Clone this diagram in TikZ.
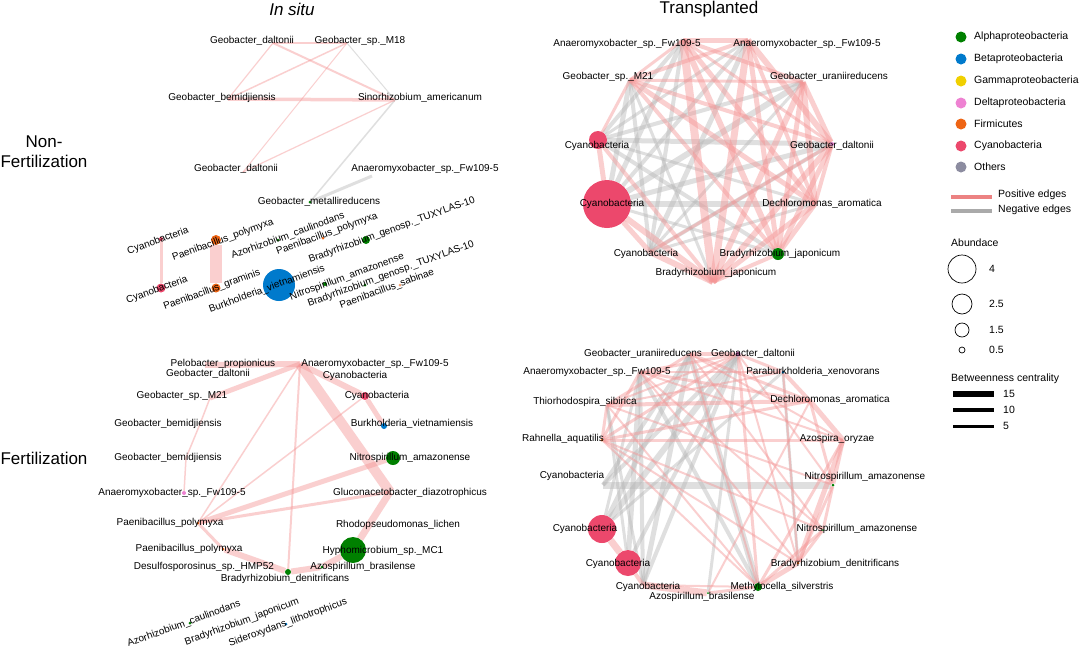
\documentclass[tikz,border=0pt]{standalone}
\usepackage{fontspec}
\setmainfont{Liberation Sans}
\usetikzlibrary{positioning}
\definecolor{alphac}{RGB}{0,128,0}
\definecolor{betac}{RGB}{0,122,204}
\definecolor{gammac}{RGB}{240,208,0}
\definecolor{deltac}{RGB}{238,130,210}
\definecolor{firmc}{RGB}{238,100,20}
\definecolor{cyanc}{RGB}{236,72,108}
\definecolor{otherc}{RGB}{140,140,160}
\definecolor{posc}{RGB}{245,150,150}
\definecolor{negc}{RGB}{185,185,185}
\definecolor{poskey}{RGB}{236,130,130}
\definecolor{negkey}{RGB}{170,170,170}
\pgfdeclarelayer{back}
\pgfdeclarelayer{edges}
\pgfsetlayers{back,edges,main}
\tikzset{
  lbl/.style={font=\fontsize{10}{12}\selectfont, inner sep=0pt},
  keylbl/.style={font=\fontsize{10.5}{12}\selectfont, inner sep=0pt, anchor=west},
  headlbl/.style={font=\fontsize{17}{20}\selectfont, inner sep=0pt},
  taxon/.style={circle, inner sep=0pt, minimum size=#1},
  posedge/.style={draw=posc, opacity=0.45, line width=#1},
  negedge/.style={draw=negc, opacity=0.45, line width=#1},
}
\begin{document}
\begin{tikzpicture}[x=1pt,y=-1pt]
\useasboundingbox (0,0) rectangle (1080,649);
\begin{pgfonlayer}{back}
\fill[white] (0,0) rectangle (1080,649);
\end{pgfonlayer}
% Headings
\node[headlbl, font=\fontsize{17}{20}\selectfont\itshape] (h-insitu) at (292,9) {In situ};
\node[headlbl] (h-trans) at (709,9) {Transplanted};
\node[headlbl, align=center] (h-nonfert) at (44,152) {Non-\\Fertilization};
\node[headlbl] (h-fert) at (44,458) {Fertilization};

% Panel 1: in situ, non-fertilization
\coordinate (a-gd1) at (273,43);
\coordinate (a-m18) at (347,43);
\coordinate (a-gb) at (228,99);
\coordinate (a-sa) at (395,100);
\coordinate (a-gd2) at (243,172);
\coordinate (a-af) at (372,176);
\node[taxon=3, fill=alphac] (a-gm) at (310,202) {};
\node[taxon=4, fill=cyanc] (a-cy1) at (161,239) {};
\node[taxon=9, fill=cyanc] (a-cy2) at (161,288) {};
\node[taxon=10, fill=firmc] (a-pp1) at (216,240) {};
\node[taxon=9, fill=firmc] (a-pg) at (216,288) {};
\node[taxon=3, fill=alphac] (a-ac) at (278,240) {};
\node[taxon=3, fill=firmc] (a-pp2) at (323,238) {};
\node[taxon=8, fill=alphac] (a-bg1) at (366,240) {};
\node[taxon=32, fill=betac] (a-bv) at (279,285) {};
\node[taxon=4, fill=alphac] (a-na) at (325,284) {};
\node[taxon=3, fill=alphac] (a-bg2) at (365,285) {};
\node[taxon=3, fill=firmc!60] (a-ps) at (400,285) {};
\begin{pgfonlayer}{edges}
\foreach \a/\b/\w in {a-gd1/a-m18/2, a-gd1/a-gb/1.2, a-gd1/a-sa/2, a-m18/a-gb/1.5,
  a-m18/a-gd2/1, a-gb/a-sa/3.5, a-sa/a-gd2/1.2, a-cy1/a-cy2/3, a-pp1/a-pg/12}
  \draw[posedge=\w] (\a) -- (\b);
\foreach \a/\b/\w in {a-m18/a-sa/1, a-sa/a-gm/1.5, a-af/a-gm/3}
  \draw[negedge=\w] (\a) -- (\b);
\end{pgfonlayer}
\node[lbl] (a-l1) at (252,41) {Geobacter\_daltonii};
\node[lbl] (a-l2) at (360,41) {Geobacter\_sp.\_M18};
\node[lbl] (a-l3) at (222,98) {Geobacter\_bemidjiensis};
\node[lbl] (a-l4) at (420,98) {Sinorhizobium\_americanum};
\node[lbl] (a-l5) at (236,169) {Geobacter\_daltonii};
\node[lbl] (a-l6) at (425,169) {Anaeromyxobacter\_sp.\_Fw109-5};
\node[lbl] (a-l7) at (319,202) {Geobacter\_metallireducens};
\node[lbl, rotate=20] (a-l8) at (158,241) {Cyanobacteria};
\node[lbl, rotate=20] (a-l9) at (157,290) {Cyanobacteria};
\node[lbl, rotate=20] (a-l10) at (223,240) {Paenibacillus\_polymyxa};
\node[lbl, rotate=20] (a-l11) at (212,290) {Paenibacillus\_graminis};
\node[lbl, rotate=20] (a-l12) at (288,236) {Azorhizobium\_caulinodans};
\node[lbl, rotate=20] (a-l13) at (267,289) {Burkholderia\_vietnamiensis};
\node[lbl, rotate=20] (a-l14) at (327,234) {Paenibacillus\_polymyxa};
\node[lbl, rotate=20] (a-l15) at (347,277) {Nitrospirillum\_amazonense};
\node[lbl, rotate=20] (a-l16) at (392,230) {Bradyrhizobium\_genosp.\_TUXYLAS-10};
\node[lbl, rotate=20] (a-l17) at (391,274) {Bradyrhizobium\_genosp.\_TUXYLAS-10};
\node[lbl, rotate=20] (a-l18) at (387,289) {Paenibacillus\_sabinae};

% Panel 2: transplanted, non-fertilization
\coordinate (b-a1) at (683,40);
\coordinate (b-a2) at (748,40);
\coordinate (b-gm21) at (630,80);
\coordinate (b-gu) at (803,82);
\node[taxon=18, fill=cyanc] (b-cy3) at (598,140) {};
\node[taxon=4, fill=deltac] (b-gda) at (832,144) {};
\node[taxon=48, fill=cyanc] (b-cy4) at (607,204) {};
\coordinate (b-da) at (815,204);
\coordinate (b-cy5) at (650,252);
\node[taxon=12, fill=alphac] (b-bj1) at (778,254) {};
\coordinate (b-bj2) at (713,282);
\begin{pgfonlayer}{edges}
\foreach \a/\b/\w in {b-cy3/b-a2/3, b-cy3/b-gu/4, b-cy3/b-gda/5, b-cy3/b-da/3, b-cy3/b-bj1/4,
  b-cy4/b-a1/5, b-cy4/b-a2/4, b-cy4/b-gu/6, b-cy4/b-gda/5, b-cy4/b-da/6, b-cy4/b-bj1/3,
  b-cy5/b-a1/4, b-cy5/b-a2/5, b-cy5/b-gu/3, b-cy5/b-gda/4, b-cy5/b-da/3, b-gm21/b-cy5/4,
  b-gm21/b-cy4/5, b-cy3/b-a1/4, b-gm21/b-bj2/3}
  \draw[negedge=\w] (\a) -- (\b);
\foreach \a/\b/\w in {b-a1/b-a2/5, b-a1/b-gu/4, b-a1/b-gda/3, b-a1/b-da/5, b-a1/b-bj1/6,
  b-a1/b-bj2/8, b-a2/b-gm21/4, b-a2/b-gda/6, b-a2/b-da/4, b-a2/b-bj1/5, b-a2/b-bj2/7,
  b-gm21/b-gu/3, b-gm21/b-gda/4, b-gm21/b-da/5, b-gm21/b-bj1/4, b-gu/b-gda/5, b-gu/b-da/6,
  b-gu/b-bj1/5, b-gu/b-bj2/6, b-gda/b-da/4, b-gda/b-bj1/5, b-gda/b-bj2/6, b-da/b-bj1/5,
  b-da/b-bj2/5, b-bj1/b-bj2/4, b-cy3/b-cy4/5, b-cy4/b-cy5/5, b-cy3/b-gm21/3, b-cy4/b-bj2/6,
  b-cy5/b-bj2/6, b-cy3/b-bj2/4, b-a1/b-gm21/3, b-gda/b-cy5/3}
  \draw[posedge=\w] (\a) -- (\b);
\end{pgfonlayer}
\node[lbl] (b-l1) at (627,44) {Anaeromyxobacter\_sp.\_Fw109-5};
\node[lbl] (b-l2) at (807,44) {Anaeromyxobacter\_sp.\_Fw109-5};
\node[lbl] (b-l3) at (608,77) {Geobacter\_sp.\_M21};
\node[lbl] (b-l4) at (829,77) {Geobacter\_uraniireducens};
\node[lbl] (b-l5) at (597,146) {Cyanobacteria};
\node[lbl] (b-l6) at (832,146) {Geobacter\_daltonii};
\node[lbl] (b-l7) at (612,204) {Cyanobacteria};
\node[lbl] (b-l8) at (822,204) {Dechloromonas\_aromatica};
\node[lbl] (b-l9) at (646,254) {Cyanobacteria};
\node[lbl] (b-l10) at (780,254) {Bradyrhizobium\_japonicum};
\node[lbl] (b-l11) at (716,273) {Bradyrhizobium\_japonicum};

% Panel 3: in situ, fertilization
\coordinate (c-t) at (300,364);
\coordinate (c-pel) at (205,365);
\coordinate (c-gm21) at (210,398);
\coordinate (c-gba) at (200,424);
\coordinate (c-gbb) at (186,458);
\node[taxon=4, fill=deltac] (c-afl) at (184,493) {};
\node[taxon=8, fill=cyanc] (c-cyb) at (365,396) {};
\node[taxon=6, fill=betac] (c-bv) at (384,426) {};
\node[taxon=14, fill=alphac] (c-na) at (393,458) {};
\coordinate (c-glu) at (390,492);
\node[taxon=26, fill=alphac] (c-hyp) at (353,550) {};
\node[taxon=3, fill=alphac] (c-azb) at (322,567) {};
\node[taxon=6, fill=alphac] (c-brd) at (288,572) {};
\node[taxon=3, fill=firmc] (c-ppa) at (198,523) {};
\node[taxon=3, fill=firmc] (c-ppb) at (223,549) {};
\node[taxon=3, fill=alphac] (c-azc) at (190,623) {};
\node[taxon=3, fill=betac] (c-sid) at (286,624) {};
\begin{pgfonlayer}{edges}
\foreach \a/\b/\w in {c-t/c-pel/6, c-t/c-gm21/5, c-gm21/c-gba/1.5, c-gba/c-gbb/1.5,
  c-gbb/c-afl/1.5, c-t/c-cyb/6, c-cyb/c-bv/5, c-t/c-glu/10, c-glu/c-hyp/7, c-hyp/c-azb/6,
  c-azb/c-brd/6, c-brd/c-ppb/6, c-ppb/c-ppa/3, c-ppa/c-t/1.5, c-ppa/c-na/5, c-ppa/c-cyb/1.5,
  c-ppa/c-glu/3, c-t/c-brd/2}
  \draw[posedge=\w] (\a) -- (\b);
\end{pgfonlayer}
\node[lbl] (c-l1) at (223,364) {Pelobacter\_propionicus};
\node[lbl] (c-l2) at (208,374) {Geobacter\_daltonii};
\node[lbl] (c-l3) at (375,364) {Anaeromyxobacter\_sp.\_Fw109-5};
\node[lbl] (c-l4) at (355,376) {Cyanobacteria};
\node[lbl] (c-l5) at (377,396) {Cyanobacteria};
\node[lbl] (c-l6) at (182,396) {Geobacter\_sp.\_M21};
\node[lbl] (c-l7) at (412,424) {Burkholderia\_vietnamiensis};
\node[lbl] (c-l8) at (168,424) {Geobacter\_bemidjiensis};
\node[lbl] (c-l9) at (168,458) {Geobacter\_bemidjiensis};
\node[lbl] (c-l10) at (410,458) {Nitrospirillum\_amazonense};
\node[lbl] (c-l11) at (172,493) {Anaeromyxobacter\_sp.\_Fw109-5};
\node[lbl] (c-l12) at (410,493) {Gluconacetobacter\_diazotrophicus};
\node[lbl] (c-l13) at (170,523) {Paenibacillus\_polymyxa};
\node[lbl] (c-l14) at (398,525) {Rhodopseudomonas\_lichen};
\node[lbl] (c-l15) at (189,549) {Paenibacillus\_polymyxa};
\node[lbl] (c-l16) at (383,551) {Hyphomicrobium\_sp.\_MC1};
\node[lbl] (c-l17) at (204,567) {Desulfosporosinus\_sp.\_HMP52};
\node[lbl] (c-l18) at (363,567) {Azospirillum\_brasilense};
\node[lbl] (c-l19) at (285,579) {Bradyrhizobium\_denitrificans};
\node[lbl, rotate=20] (c-l20) at (184,624) {Azorhizobium\_caulinodans};
\node[lbl, rotate=20] (c-l21) at (242,622) {Bradyrhizobium\_japonicum};
\node[lbl, rotate=20] (c-l22) at (288,623) {Sideroxydans\_lithotrophicus};

% Panel 4: transplanted, fertilization
\coordinate (d-gur) at (690,354);
\node[taxon=5, fill=deltac!70!black] (d-gdl) at (738,354) {};
\coordinate (d-af) at (640,372);
\node[taxon=3, fill=betac] (d-px) at (783,372) {};
\coordinate (d-ts) at (607,405);
\coordinate (d-dar) at (810,401);
\node[taxon=3, fill=firmc] (d-ra) at (602,440) {};
\coordinate (d-ao) at (843,440);
\coordinate (d-cy6) at (603,485);
\node[taxon=3, fill=alphac] (d-na1) at (833,485) {};
\node[taxon=28, fill=cyanc] (d-cy7) at (602,529) {};
\node[taxon=2, fill=alphac] (d-na2) at (823,530) {};
\node[taxon=26, fill=cyanc] (d-cy8) at (628,563) {};
\node[taxon=3, fill=firmc] (d-bd) at (798,563) {};
\coordinate (d-cy9) at (643,585);
\node[taxon=8, fill=alphac] (d-ms) at (758,587) {};
\node[taxon=2, fill=alphac] (d-ab) at (708,593) {};
\begin{pgfonlayer}{edges}
\foreach \a/\b/\w in {d-cy6/d-na1/7, d-cy7/d-gdl/6, d-cy7/d-gur/5, d-cy8/d-gdl/4, d-cy8/d-af/5,
  d-cy9/d-gur/5, d-cy9/d-gdl/4, d-cy6/d-gdl/4, d-cy7/d-px/3, d-ms/d-gur/6, d-ms/d-af/4,
  d-cy8/d-ts/3, d-cy9/d-ts/3, d-cy6/d-gur/4, d-bd/d-px/3, d-cy9/d-af/4, d-cy7/d-af/3, d-ab/d-gdl/3}
  \draw[negedge=\w] (\a) -- (\b);
\foreach \a/\b/\w in {d-gur/d-gdl/4, d-gur/d-dar/3, d-gur/d-ao/2, d-gur/d-na2/2, d-gdl/d-af/3,
  d-gdl/d-ts/2, d-gdl/d-ra/3, d-gdl/d-na1/2, d-gdl/d-bd/2, d-gdl/d-ms/3, d-af/d-dar/3,
  d-af/d-px/2, d-af/d-ao/2, d-af/d-na2/2, d-af/d-bd/2, d-ts/d-dar/4, d-ts/d-px/2, d-ts/d-na1/2,
  d-ts/d-ms/2, d-ra/d-dar/3, d-ra/d-ao/3, d-ra/d-na2/2, d-ra/d-bd/2, d-ra/d-ms/2, d-ra/d-af/3,
  d-dar/d-ao/5, d-dar/d-na1/3, d-ao/d-na1/4, d-ao/d-bd/5, d-ao/d-ms/3, d-na1/d-na2/3,
  d-na1/d-bd/3, d-na2/d-bd/3, d-na2/d-ms/3, d-bd/d-ms/5, d-cy7/d-cy8/7, d-cy8/d-cy9/4,
  d-cy9/d-ab/7, d-ab/d-ms/3, d-cy9/d-ms/2, d-px/d-dar/4, d-px/d-bd/2, d-gdl/d-px/3,
  d-ra/d-ts/3, d-ts/d-gur/3, d-dar/d-ab/2, d-gur/d-ms/2}
  \draw[posedge=\w] (\a) -- (\b);
\end{pgfonlayer}
\node[lbl] (d-l1) at (643,354) {Geobacter\_uraniireducens};
\node[lbl] (d-l2) at (753,354) {Geobacter\_daltonii};
\node[lbl] (d-l3) at (597,372) {Anaeromyxobacter\_sp.\_Fw109-5};
\node[lbl] (d-l4) at (813,372) {Paraburkholderia\_xenovorans};
\node[lbl] (d-l5) at (585,402) {Thiorhodospira\_sibirica};
\node[lbl] (d-l6) at (830,400) {Dechloromonas\_aromatica};
\node[lbl] (d-l7) at (563,439) {Rahnella\_aquatilis};
\node[lbl] (d-l8) at (837,439) {Azospira\_oryzae};
\node[lbl] (d-l9) at (572,476) {Cyanobacteria};
\node[lbl] (d-l10) at (865,477) {Nitrospirillum\_amazonense};
\node[lbl] (d-l11) at (585,529) {Cyanobacteria};
\node[lbl] (d-l12) at (857,529) {Nitrospirillum\_amazonense};
\node[lbl] (d-l13) at (618,564) {Cyanobacteria};
\node[lbl] (d-l14) at (835,564) {Bradyrhizobium\_denitrificans};
\node[lbl] (d-l15) at (648,587) {Cyanobacteria};
\node[lbl] (d-l16) at (782,587) {Methylocella\_silverstris};
\node[lbl] (d-l17) at (702,597) {Azospirillum\_brasilense};

% Legend
\foreach \c/\t/\y in {alphac/Alphaproteobacteria/37, betac/Betaproteobacteria/59,
  gammac/Gammaproteobacteria/81, deltac/Deltaproteobacteria/103, firmc/Firmicutes/124,
  cyanc/Cyanobacteria/146, otherc/Others/167}
{
  \node[taxon=11, fill=\c] (k-\c) at (961,\y) {};
  \node[keylbl] (kl-\c) at (974,\y) {\t};
}
\coordinate (k-p1) at (951,197);
\coordinate (k-p2) at (992,197);
\coordinate (k-n1) at (951,211);
\coordinate (k-n2) at (992,211);
\draw[draw=poskey, line width=3.5] (k-p1) -- (k-p2);
\draw[draw=negkey, line width=3.5] (k-n1) -- (k-n2);
\node[keylbl] (k-pos) at (998,195) {Positive edges};
\node[keylbl] (k-neg) at (998,210) {Negative edges};
\node[keylbl] (k-ab) at (951,243) {Abundace};
\foreach \s/\y/\t/\n in {28/269/4/a, 20/304/2.5/b, 14/330/1.5/c, 6/350/0.5/d}
{
  \node[taxon=\s, draw=black, line width=0.7] (k-c\n) at (962,\y) {};
  \node[keylbl] (k-t\n) at (989,\y) {\t};
}
\node[keylbl] (k-bc) at (951,379) {Betweenness centrality};
\foreach \w/\y/\t/\n in {6/394/15/a, 4.5/410/10/b, 3/426/5/c}
{
  \coordinate (k-s\n) at (953,\y);
  \coordinate (k-e\n) at (994,\y);
  \draw[line width=\w] (k-s\n) -- (k-e\n);
  \node[keylbl] (k-w\n) at (1003,\y) {\t};
}
\end{tikzpicture}
\end{document}
